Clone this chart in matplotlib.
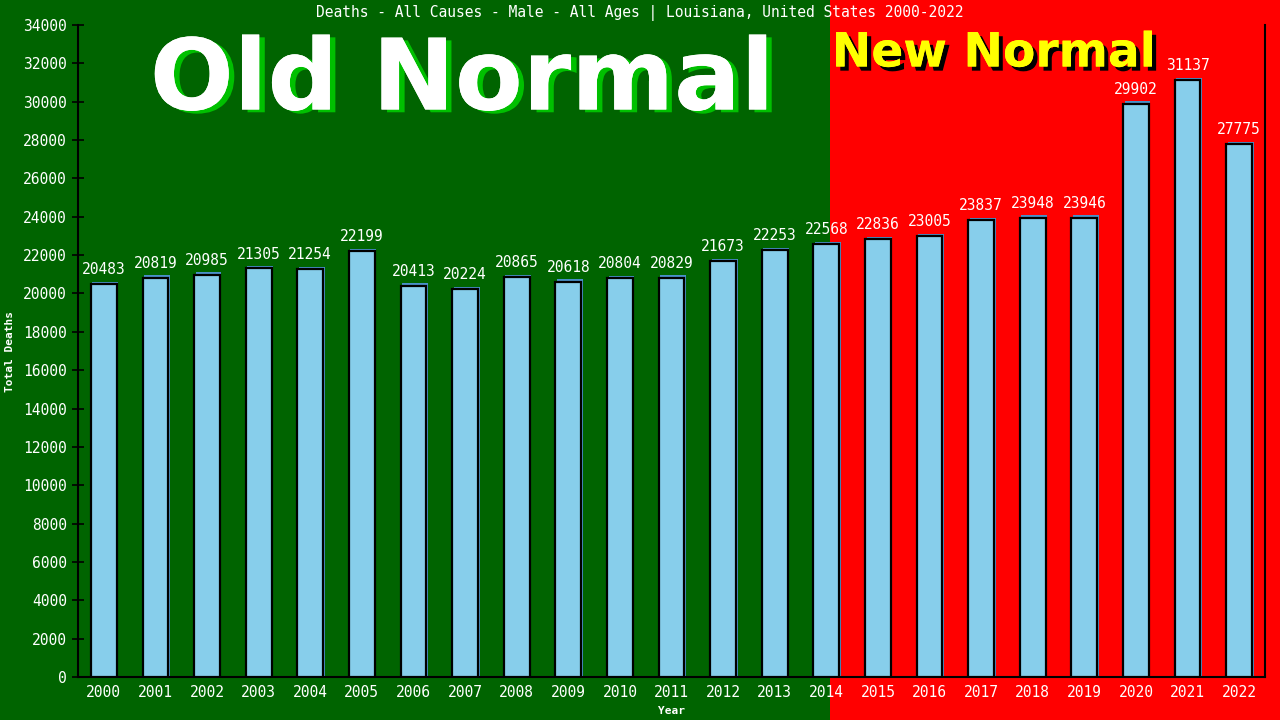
import matplotlib
matplotlib.use('Agg')
import matplotlib.pyplot as plt
import matplotlib.patheffects as pe
from matplotlib.patches import Rectangle

years = [str(y) for y in range(2000, 2023)]
deaths = [20483, 20819, 20985, 21305, 21254, 22199, 20413, 20224, 20865, 20618,
          20804, 20829, 21673, 22253, 22568, 22836, 23005, 23837, 23948, 23946,
          29902, 31137, 27775]
yticks = list(range(0, 34001, 2000))

title = 'Deaths - All Causes - Male - All Ages | Louisiana, United States 2000-2022'

GREEN = '#006400'
RED = '#ff0000'
mono = 'DejaVu Sans Mono'

fig = plt.figure(figsize=(12.8, 7.2), dpi=100)
fig.patch.set_facecolor(GREEN)
# red "new normal" area on the right, behind the axes
fig.patches.append(Rectangle((830 / 1280, 0), 1, 1, transform=fig.transFigure,
                             facecolor=RED, edgecolor='none', zorder=-10))

ax = fig.add_axes([78 / 1280, 1 - 677 / 720, 1187 / 1280, 652 / 720])
ax.set_facecolor('none')

x = list(range(len(years)))
# thin blue shadow behind each bar
ax.bar([i + 0.03 for i in x], [d + 120 for d in deaths], width=0.5,
       color='#4a90c8', edgecolor='none', zorder=2)
ax.bar(x, deaths, width=0.5, color='#87ceeb', edgecolor='black',
       linewidth=1.6, zorder=3)

for i, d in zip(x, deaths):
    ax.annotate(str(d), (i, d), xytext=(0, 5), textcoords='offset points',
                ha='center', va='bottom', color='white', fontsize=10.5,
                family=mono, zorder=4)

ax.set_xlim(-0.5, 22.5)
ax.set_ylim(0, 34000)
ax.set_xticks(x)
ax.set_xticklabels(years, family=mono, fontsize=10.5, color='white')
ax.set_yticks(yticks)
ax.set_yticklabels([str(t) for t in yticks], family=mono, fontsize=10.5, color='white')
ax.tick_params(axis='x', length=0, pad=6)
ax.tick_params(axis='y', direction='inout', length=8, width=1.2, color='black', pad=4)

for s in ['left', 'right', 'bottom']:
    ax.spines[s].set_color('black')
    ax.spines[s].set_linewidth(1.5)
ax.spines['top'].set_visible(False)

ax.set_xlabel('Year', family=mono, fontsize=8, fontweight='bold', color='white', labelpad=4)
ax.set_ylabel('Total Deaths', family=mono, fontsize=8, fontweight='bold', color='white', labelpad=6)

fig.text(0.5, 1 - 13 / 720, title, ha='center', va='center', color='white',
         fontsize=10.5, family=mono)

fig.text(462 / 1280, 1 - 82 / 720, 'Old Normal', ha='center', va='center',
         color='white', fontsize=71, fontweight='bold', family='DejaVu Sans',
         path_effects=[pe.withSimplePatchShadow(offset=(4, -2), shadow_rgbFace='#00c000', alpha=1),
                       pe.Normal()])
fig.text(994 / 1280, 1 - 54 / 720, 'New Normal', ha='center', va='center',
         color='#ffff00', fontsize=34, fontweight='bold', family='DejaVu Sans',
         path_effects=[pe.withSimplePatchShadow(offset=(3, -3), shadow_rgbFace='black', alpha=1),
                       pe.Normal()])

fig.savefig('out.png', dpi=100, facecolor=fig.get_facecolor())
